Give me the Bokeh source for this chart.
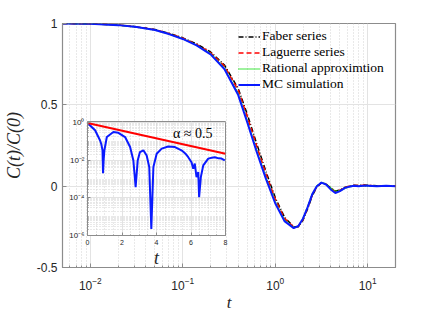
from bokeh.plotting import figure
from bokeh.models import Column, FixedTicker, Legend, LegendItem, Label
from bokeh.embed import file_html
from bokeh.resources import INLINE

# ---------------- data ----------------
t = [0.005, 0.01, 0.02, 0.0316, 0.05, 0.0708, 0.1, 0.141, 0.2, 0.282, 0.398, 0.5,
     0.631, 0.794, 1.0, 1.259, 1.585, 1.778, 1.995, 2.239, 2.512, 2.818, 3.162, 3.548,
     3.981, 4.467, 5.012, 5.623, 6.31, 7.079, 7.943, 8.913, 10.0, 12.59, 15.85, 19.95]

faber = [1.0, 0.998, 0.991, 0.98, 0.963, 0.94, 0.912, 0.875, 0.825, 0.745, 0.60, 0.44,
         0.26, 0.09, -0.07, -0.19, -0.25, -0.25, -0.21, -0.14, -0.06, -0.005, 0.02, 0.013,
         -0.012, -0.03, -0.025, -0.008, 0.0, 0.006, 0.004, 0.008, 0.006, 0.002, 0.001, 0.0]

laguerre = [1.0, 0.998, 0.991, 0.979, 0.962, 0.938, 0.91, 0.872, 0.82, 0.738, 0.59, 0.425,
            0.245, 0.075, -0.08, -0.198, -0.252, -0.248, -0.205, -0.135, -0.055, -0.003, 0.021, 0.012,
            -0.014, -0.033, -0.026, -0.01, -0.001, 0.004, 0.003, 0.005, 0.004, 0.001, 0.0, 0.0]

rational = [1.0, 0.998, 0.99, 0.978, 0.96, 0.936, 0.907, 0.868, 0.815, 0.728, 0.57, 0.40,
            0.222, 0.055, -0.095, -0.208, -0.255, -0.247, -0.20, -0.128, -0.048, 0.002, 0.022, 0.014,
            -0.01, -0.03, -0.028, -0.014, -0.004, 0.001, 0.0, 0.001, 0.0, 0.0, 0.0, 0.0]

mc = [1.0, 0.998, 0.99, 0.978, 0.96, 0.935, 0.905, 0.865, 0.81, 0.72, 0.56, 0.39,
      0.21, 0.045, -0.105, -0.215, -0.258, -0.245, -0.20, -0.13, -0.05, 0.0, 0.022, 0.01,
      -0.02, -0.042, -0.03, -0.012, -0.003, 0.002, 0.0, 0.003, 0.003, 0.0, 0.002, 0.0]

series_names = ["Faber series", "Laguerre series", "Rational approximtion", "MC simulation"]

# inset: |C(t)| on a log scale
t_in = [0.0, 0.44, 0.73, 0.8, 0.87, 0.9, 0.94, 0.98, 1.12, 1.5, 1.79, 2.18, 2.47, 2.66,
        2.79, 2.91, 3.04, 3.24, 3.43, 3.58, 3.7, 3.82, 4.01, 4.3, 4.68, 5.07, 5.45, 5.7,
        5.84, 6.03, 6.13, 6.22, 6.32, 6.42, 6.47, 6.57, 6.71, 7.0, 7.2, 7.38, 7.6, 7.77, 7.96]
absc_in = [1.0, 0.41, 0.117, 0.075, 0.035, 0.0021, 0.012, 0.035, 0.178, 0.33, 0.30, 0.178, 0.052, 0.01,
           3.8e-4, 0.01, 0.028, 0.035, 0.0186, 0.0045, 2.2e-6, 0.0045, 0.023, 0.043, 0.056, 0.052, 0.035, 0.022,
           0.015, 0.0081, 0.0036, 0.0068, 0.0013, 0.0024, 1.1e-4, 0.0013, 0.0055, 0.0126, 0.014, 0.015, 0.013, 0.0126, 0.01]
t_fit = [0.0, 8.0]
fit = [1.0, 0.023]
fit_label = "α ≈ 0.5"

x_ticks = [0.01, 0.1, 1, 10]
x_minor = [k * 10.0 ** e for e in (-3, -2, -1, 0, 1) for k in range(2, 10)]
y_ticks = [-0.5, 0, 0.5, 1]
y_tick_labels = ["-0.5", "0", "0.5", "1"]
inset_x_ticks = [0, 2, 4, 6, 8]
inset_y_ticks = [1e-6, 1e-4, 1e-2, 1]
inset_y_tick_labels = ["10⁻⁶", "10⁻⁴", "10⁻²", "10⁰"]
inset_y_minor = [k * 10.0 ** e for e in range(-6, 0) for k in range(1, 10)]

AX = "#8c8c8c"
TXT = "#262626"
GRID = "#e3e3e3"
MINOR = "#d2d2d2"

# ---------------- main figure ----------------
p = figure(x_axis_type="log", x_range=(0.005, 20), y_range=(-0.5, 1),
           frame_width=333, frame_height=244,
           min_border_left=61, min_border_right=46, min_border_top=23, min_border_bottom=44,
           output_backend="svg", toolbar_location=None,
           background_fill_color="white", border_fill_color="white")
p.outline_line_color = AX
p.outline_line_width = 1.2

p.xaxis.ticker = FixedTicker(ticks=x_ticks, minor_ticks=x_minor)
p.yaxis.ticker = FixedTicker(ticks=y_ticks, minor_ticks=[])
p.yaxis.major_label_overrides = {v: s for v, s in zip(y_ticks, y_tick_labels)}
for ax in (p.xaxis[0], p.yaxis[0]):
    ax.axis_line_color = AX
    ax.major_tick_line_color = AX
    ax.minor_tick_line_color = AX
    ax.major_tick_in = 4
    ax.major_tick_out = 0
    ax.minor_tick_in = 2
    ax.minor_tick_out = 0
    ax.major_label_text_font = "Liberation Sans"
    ax.major_label_text_font_size = "12px"
    ax.major_label_text_color = TXT
    ax.axis_label_text_font = "Liberation Serif"
    ax.axis_label_text_font_style = "italic"
    ax.axis_label_text_color = TXT
p.xaxis.axis_label = "t"
p.yaxis.axis_label = "C(t)/C(0)"
p.xaxis.axis_label_text_font_size = "17px"
p.yaxis.axis_label_text_font_size = "18px"
p.xaxis.major_label_standoff = 9
p.xaxis.axis_label_standoff = 0
p.yaxis.major_label_standoff = 5
p.yaxis.axis_label_standoff = 10

p.xgrid.grid_line_color = GRID
p.xgrid.minor_grid_line_color = MINOR
p.xgrid.minor_grid_line_dash = "1 2"
p.ygrid.grid_line_color = GRID

r_f = p.line(t, faber, line_color="black", line_width=1.5, line_dash="5 2 1 2")
r_l = p.line(t, laguerre, line_color="red", line_width=1.6, line_dash="5 3")
r_r = p.line(t, rational, line_color="#00dd00", line_width=1.5, line_dash="1 1")
r_m = p.line(t, mc, line_color="#0a1aff", line_width=2)

legend = Legend(items=[LegendItem(label=n, renderers=[r]) for n, r in
                       zip(series_names, [r_f, r_l, r_r, r_m])],
                location=(176, 175), padding=0, margin=0, spacing=0,
                glyph_width=22, glyph_height=15, label_height=15, label_standoff=2,
                label_text_font="Liberation Serif", label_text_font_size="13.5px",
                label_text_color="black", background_fill_alpha=0, border_line_alpha=0)
p.add_layout(legend)

# ---------------- inset ----------------
# borders match the main plot's, because a Column aligns its plots' frames
inset = figure(y_axis_type="log", x_range=(0, 8), y_range=(1e-6, 1.2),
               frame_width=138, frame_height=114,
               min_border_left=61, min_border_right=46, min_border_top=4, min_border_bottom=30,
               output_backend="svg", toolbar_location=None,
               background_fill_color="white", border_fill_alpha=0,
               styles={"position": "absolute", "left": "25px", "top": "117px"})
inset.outline_line_color = AX
inset.xaxis.ticker = FixedTicker(ticks=inset_x_ticks, minor_ticks=[0.5 * i for i in range(17)])
inset.yaxis.ticker = FixedTicker(ticks=inset_y_ticks, minor_ticks=inset_y_minor)
inset.yaxis.major_label_overrides = {v: s for v, s in zip(inset_y_ticks, inset_y_tick_labels)}
for ax in (inset.xaxis[0], inset.yaxis[0]):
    ax.axis_line_color = AX
    ax.major_tick_line_color = AX
    ax.minor_tick_line_color = AX
    ax.major_tick_in = 3
    ax.major_tick_out = 0
    ax.minor_tick_in = 1
    ax.minor_tick_out = 0
    ax.major_label_text_font = "Liberation Sans"
    ax.major_label_text_color = TXT
    ax.major_label_standoff = 4
inset.xaxis.major_label_text_font_size = "7px"
inset.yaxis.major_label_text_font_size = "8px"
inset.yaxis.major_label_standoff = 3
inset.xaxis.axis_label = "t"
inset.xaxis.axis_label_text_font = "Liberation Serif"
inset.xaxis.axis_label_text_font_style = "italic"
inset.xaxis.axis_label_text_font_size = "18px"
inset.xaxis.axis_label_text_color = TXT
inset.xaxis.axis_label_standoff = 0
inset.xgrid.grid_line_color = GRID
inset.xgrid.minor_grid_line_color = MINOR
inset.xgrid.minor_grid_line_dash = "1 2"
inset.ygrid.grid_line_color = GRID
inset.ygrid.minor_grid_line_color = MINOR
inset.ygrid.minor_grid_line_dash = "1 2"

inset.line(t_in, absc_in, line_color="#0a1aff", line_width=2)
inset.line(t_fit, fit, line_color="red", line_width=2)
inset.add_layout(Label(x=6.1, y=0.28, text=fit_label, text_align="center", text_baseline="middle",
                       text_font="Liberation Serif", text_font_size="14px", text_color="black"))

layout = Column(children=[p, inset], styles={"position": "relative"})

open("out.html", "w").write(file_html(layout, INLINE))
